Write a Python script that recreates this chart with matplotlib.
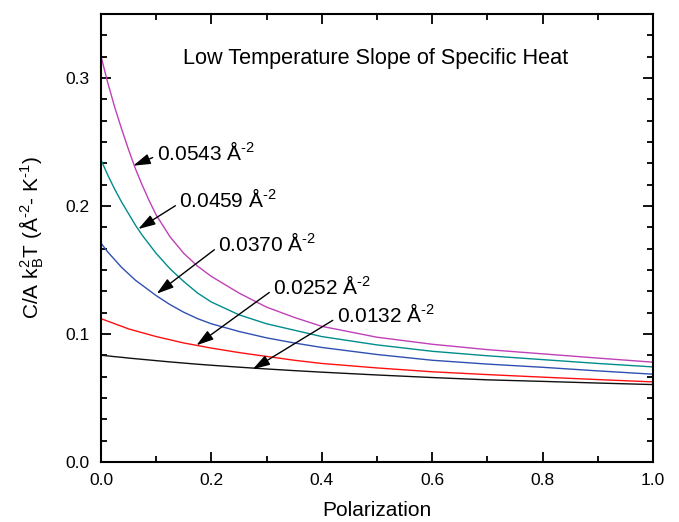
import matplotlib
matplotlib.use("Agg")
import matplotlib.pyplot as plt
from matplotlib.ticker import MultipleLocator

plt.rcParams['font.family'] = ['Liberation Sans', 'DejaVu Sans']
plt.rcParams['mathtext.fontset'] = 'custom'
plt.rcParams['mathtext.rm'] = 'Liberation Sans'
plt.rcParams['mathtext.it'] = 'Liberation Sans:italic'
plt.rcParams['mathtext.default'] = 'regular'

pol = [0, 0.0125, 0.025, 0.0375, 0.05, 0.0625, 0.075, 0.0875, 0.1, 0.125, 0.15, 0.175,
       0.2, 0.25, 0.3, 0.35, 0.4, 0.5, 0.6, 0.7, 0.8, 0.9, 1.0]

# C / A kB^2 T for each density
c_0543 = [0.317, 0.296, 0.277, 0.260, 0.244, 0.229, 0.216, 0.204, 0.193, 0.176, 0.163, 0.153,
          0.145, 0.132, 0.121, 0.113, 0.106, 0.0975, 0.0920, 0.0878, 0.0845, 0.0812, 0.078]
c_0459 = [0.236, 0.224, 0.213, 0.203, 0.194, 0.185, 0.177, 0.170, 0.163, 0.151, 0.141, 0.132,
          0.125, 0.115, 0.108, 0.103, 0.098, 0.0915, 0.0865, 0.0830, 0.0800, 0.0770, 0.0743]
c_0370 = [0.171, 0.164, 0.158, 0.152, 0.147, 0.142, 0.138, 0.134, 0.130, 0.123, 0.117, 0.112,
          0.108, 0.102, 0.097, 0.093, 0.0895, 0.084, 0.0795, 0.0765, 0.0740, 0.0712, 0.0686]
c_0252 = [0.112, 0.110, 0.108, 0.106, 0.104, 0.1025, 0.101, 0.0995, 0.098, 0.0955, 0.093, 0.091,
          0.089, 0.0855, 0.0825, 0.0795, 0.077, 0.0735, 0.0705, 0.0683, 0.0663, 0.0644, 0.0626]
c_0132 = [0.0834, 0.0829, 0.0823, 0.0818, 0.0812, 0.0807, 0.0802, 0.0797, 0.0792, 0.0782, 0.0773, 0.0764,
          0.0756, 0.0741, 0.0727, 0.0714, 0.0702, 0.0680, 0.0660, 0.0642, 0.0630, 0.0617, 0.0605]

series = [c_0543, c_0459, c_0370, c_0252, c_0132]
colors = ['#C040B8', '#008C8C', '#3050B0', '#FF1010', '#101010']

labels = ['0.0543', '0.0459', '0.0370', '0.0252', '0.0132']
label_pos = [(0.101, 0.236), (0.142, 0.199), (0.2125, 0.165), (0.312, 0.1315), (0.427, 0.1094)]
arrow_tip = [(0.0585, 0.2315), (0.0676, 0.182), (0.101, 0.1315), (0.173, 0.0912), (0.275, 0.0725)]

fig = plt.figure(figsize=(6.79, 5.22), dpi=100)
ax = fig.add_axes([0.1487, 0.1149, 0.813, 0.8583])

for vals, col in zip(series, colors):
    ax.plot(pol, vals, color=col, lw=1.0)

for lab, pos, tip in zip(labels, label_pos, arrow_tip):
    ax.annotate(lab + u' \u00c5$^{\\text{-2}}$', xy=tip, xytext=pos, ha='left', va='baseline',
                fontsize=15,
                arrowprops=dict(arrowstyle='-|>,head_length=0.65,head_width=0.2', color='k',
                                lw=1.0, mutation_scale=16,
                                relpos=(0, 0.35), shrinkA=1, shrinkB=0))

ax.text(0.149, 0.3107, 'Low Temperature Slope of Specific Heat', fontsize=15.6, ha='left', va='baseline')

ax.set_xlim(0, 1.0)
ax.set_ylim(0, 0.35)
ax.xaxis.set_major_locator(MultipleLocator(0.2))
ax.xaxis.set_minor_locator(MultipleLocator(0.1))
ax.yaxis.set_major_locator(MultipleLocator(0.1))
ax.yaxis.set_minor_locator(MultipleLocator(0.1 / 6))

ax.tick_params(which='both', direction='in', top=True, right=True, width=1.3, labelsize=12.5, pad=8)
ax.tick_params(which='major', length=7)
ax.tick_params(which='minor', length=4.5)
for s in ax.spines.values():
    s.set_linewidth(1.5)

ax.set_xlabel('Polarization', fontsize=15, labelpad=9)
ax.set_ylabel(u'C/A k$_B^2$T (\u00c5$^{\\text{-2}}$- K$^{\\text{-1}}$)', fontsize=15, labelpad=14)

fig.savefig('out.png', dpi=100)
